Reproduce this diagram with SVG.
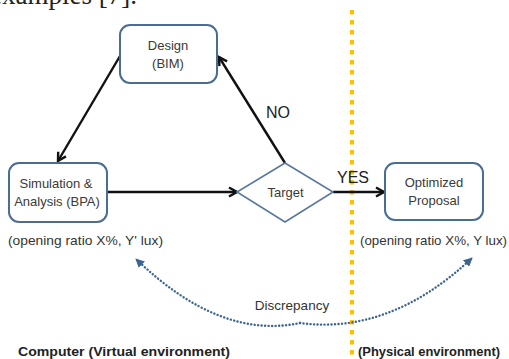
<svg xmlns="http://www.w3.org/2000/svg" width="509" height="359" viewBox="0 0 509 359">
<style>
  .box { fill: #ffffff; stroke: #4a6d94; stroke-width: 2; }
  .dia { fill: #ffffff; stroke: #5878a0; stroke-width: 1.6; }
  .t { font-family: "Liberation Sans", Arial, sans-serif; font-size: 13px; fill: #3a3a3a; text-anchor: middle; }
  .lbl { font-family: "Liberation Sans", Arial, sans-serif; font-size: 13.5px; fill: #333333; }
  .big { font-family: "Liberation Sans", Arial, sans-serif; font-size: 16px; fill: #222222; }
  .bold { font-family: "Liberation Sans", Arial, sans-serif; font-size: 13.5px; font-weight: bold; fill: #222222; }
  .arrow { fill: none; stroke: #111111; stroke-width: 2.4; }
</style>
<defs>
  <marker id="ah" viewBox="0 0 12 12" refX="10" refY="6" markerWidth="12" markerHeight="12" markerUnits="userSpaceOnUse" orient="auto">
    <path d="M2,1.5 L10,6 L2,10.5" fill="none" stroke="#111111" stroke-width="2.4"/>
  </marker>
  <marker id="bh" viewBox="0 0 10 10" refX="9" refY="5" markerWidth="9" markerHeight="9" markerUnits="userSpaceOnUse" orient="auto">
    <path d="M0,0 L10,5 L0,10 Z" fill="#3d6594"/>
  </marker>
</defs>
<rect width="509" height="359" fill="#ffffff"/>
<text x="137" y="4" text-anchor="end" font-family="'Liberation Serif', 'Times New Roman', serif" font-size="27" fill="#222222">examples [7].</text>

<line x1="352" y1="10" x2="352" y2="359" stroke="#FFC000" stroke-width="4" stroke-dasharray="4.5 5.5"/>

<g id="connectors">
  <line class="arrow" x1="120" y1="56" x2="58" y2="161" marker-end="url(#ah)"/>
  <line class="arrow" x1="285" y1="163" x2="219" y2="57" marker-end="url(#ah)"/>
  <line class="arrow" x1="107" y1="192" x2="237" y2="192" marker-end="url(#ah)"/>
  <line class="arrow" x1="333" y1="192" x2="384" y2="192" marker-end="url(#ah)"/>
  <path d="M300,323 Q 220,340 136,259" fill="none" stroke="#3d6594" stroke-width="2.4" stroke-dasharray="0.1 3.4" stroke-linecap="round" marker-end="url(#bh)"/>
  <path d="M300,323 Q 390,335 472,258" fill="none" stroke="#3d6594" stroke-width="2.4" stroke-dasharray="0.1 3.4" stroke-linecap="round" marker-end="url(#bh)"/>
  <text class="big" x="266" y="118">NO</text>
  <text class="big" x="337" y="183" font-size="15">YES</text>
  <text class="lbl" x="292" y="310" text-anchor="middle" font-size="13.5">Discrepancy</text>
</g>

<g id="design">
  <rect class="box" x="120" y="25" width="97" height="58" rx="10"/>
  <text class="t" x="168" y="50">Design</text>
  <text class="t" x="168" y="68">(BIM)</text>
</g>
<g id="simulation">
  <rect class="box" x="9" y="163" width="98" height="59" rx="10"/>
  <text class="t" x="56" y="188">Simulation &amp;</text>
  <text class="t" x="57" y="206">Analysis (BPA)</text>
</g>
<g id="target">
  <polygon class="dia" points="285,163 333,192 285,222 237,192"/>
  <text class="t" x="285.5" y="197">Target</text>
</g>
<g id="optimized">
  <rect class="box" x="385" y="163" width="98" height="57" rx="10"/>
  <text class="t" x="434" y="187">Optimized</text>
  <text class="t" x="434" y="205">Proposal</text>
</g>

<text class="lbl" x="8" y="245" textLength="155" lengthAdjust="spacingAndGlyphs">(opening ratio X%, Y' lux)</text>
<text class="lbl" x="360" y="245" textLength="147" lengthAdjust="spacingAndGlyphs">(opening ratio X%, Y lux)</text>
<text class="bold" x="18" y="356" textLength="212" lengthAdjust="spacingAndGlyphs">Computer (Virtual environment)</text>
<text class="bold" x="358" y="356" textLength="142" lengthAdjust="spacingAndGlyphs">(Physical environment)</text>
</svg>
